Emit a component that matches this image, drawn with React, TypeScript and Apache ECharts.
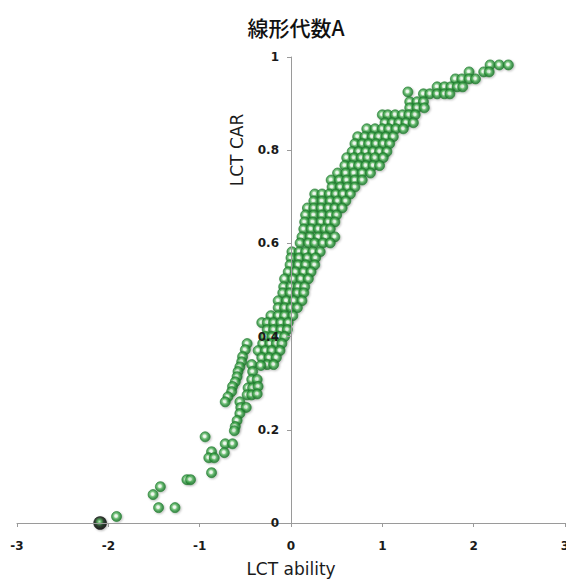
import React, { useEffect, useRef } from "react";
import * as echarts from "echarts";

// Rows of the dense band: [CAR, abilities on that CAR level]
const mainBandRows: [number, number[]][] = [
  [0.983, [2.18, 2.28, 2.38]],
  [0.968, [1.95, 2.11, 2.17]],
  [0.953, [1.8, 1.87, 1.95, 2.02]],
  [0.936, [1.6, 1.68, 1.75, 1.82, 1.88]],
  [0.925, [1.28]],
  [0.921, [1.45, 1.52, 1.6, 1.68, 1.74]],
  [0.904, [1.3, 1.38, 1.45]],
  [0.891, [1.3, 1.38, 1.46]],
  [0.876, [1.0, 1.06, 1.14, 1.22, 1.29, 1.36]],
  [0.859, [1.03, 1.11, 1.18, 1.26, 1.34]],
  [0.846, [0.83, 0.92, 1.0, 1.07, 1.15, 1.23]],
  [0.829, [0.73, 0.81, 0.89, 0.96, 1.04, 1.12]],
  [0.814, [0.7, 0.78, 0.85, 0.93, 1.01, 1.08]],
  [0.797, [0.67, 0.74, 0.82, 0.9, 0.97, 1.05]],
  [0.784, [0.61, 0.69, 0.77, 0.84, 0.92, 1.01]],
  [0.767, [0.59, 0.67, 0.74, 0.82, 0.9, 0.97]],
  [0.751, [0.51, 0.6, 0.69, 0.78, 0.87]],
  [0.736, [0.44, 0.53, 0.61, 0.7, 0.78]],
  [0.721, [0.45, 0.54, 0.62, 0.7]],
  [0.706, [0.26, 0.34, 0.42, 0.49, 0.57, 0.65]],
  [0.691, [0.25, 0.34, 0.43, 0.51, 0.6]],
  [0.676, [0.18, 0.25, 0.33, 0.41, 0.48, 0.56]],
  [0.661, [0.16, 0.25, 0.34, 0.43, 0.5]],
  [0.646, [0.15, 0.24, 0.33, 0.41, 0.48]],
  [0.631, [0.14, 0.22, 0.3, 0.37, 0.43]],
  [0.614, [0.12, 0.21, 0.3, 0.38, 0.48]],
  [0.601, [0.1, 0.19, 0.26, 0.35, 0.43]],
  [0.582, [0.01, 0.09, 0.16, 0.24, 0.32]],
  [0.569, [0.0, 0.09, 0.18, 0.27]],
  [0.554, [-0.01, 0.08, 0.16, 0.26]],
  [0.539, [-0.03, 0.05, 0.14, 0.22]],
  [0.524, [-0.07, 0.02, 0.11, 0.19]],
  [0.507, [-0.08, 0.0, 0.08, 0.15]],
  [0.494, [-0.09, -0.01, 0.07, 0.14]],
  [0.477, [-0.14, -0.05, 0.03, 0.12]],
  [0.462, [-0.14, -0.07, 0.0, 0.07]],
  [0.445, [-0.22, -0.14, -0.07, 0.02]],
  [0.43, [-0.32, -0.26, -0.19, -0.11, -0.03]],
  [0.415, [-0.26, -0.19, -0.11, -0.04]],
  [0.4, [-0.28, -0.21, -0.13, -0.07]],
  [0.385, [-0.31, -0.23, -0.16, -0.1]],
  [0.37, [-0.36, -0.28, -0.21, -0.12]],
  [0.355, [-0.32, -0.24, -0.16]],
  [0.34, [-0.26, -0.19]],
];

// Diagonal strand left of the band: [ability, CAR]
const strandPoints: [number, number][] = [
  [-0.48, 0.385], [-0.5, 0.372], [-0.53, 0.357], [-0.54, 0.346],
  [-0.56, 0.335], [-0.58, 0.325], [-0.59, 0.314], [-0.61, 0.303],
  [-0.64, 0.293], [-0.65, 0.282], [-0.69, 0.271], [-0.72, 0.26],
];

// Small cluster under the band: [ability, CAR]
const clusterPoints: [number, number][] = [
  [-0.43, 0.34], [-0.33, 0.338], [-0.42, 0.325], [-0.43, 0.308],
  [-0.37, 0.308], [-0.47, 0.29], [-0.42, 0.29], [-0.36, 0.293],
  [-0.48, 0.275], [-0.43, 0.275], [-0.37, 0.277], [-0.56, 0.26],
  [-0.55, 0.248], [-0.49, 0.248], [-0.56, 0.235], [-0.59, 0.22],
  [-0.61, 0.207], [-0.62, 0.198],
];

// Sparse low-ability examinees: [ability, CAR]
const lowPoints: [number, number][] = [
  [-0.94, 0.185], [-0.72, 0.17], [-0.64, 0.17], [-0.73, 0.151],
  [-0.87, 0.153], [-0.9, 0.14], [-0.84, 0.14], [-0.87, 0.108],
  [-1.14, 0.093], [-1.1, 0.093], [-1.43, 0.078], [-1.51, 0.061],
  [-1.45, 0.033], [-1.27, 0.033], [-1.91, 0.014],
];

// Highlighted examinee
const markedPoint: [number, number] = [-2.09, 0.0];

const xTicks = [-3, -2, -1, 0, 1, 2, 3];
const yTicks = [0, 0.2, 0.4, 0.6, 0.8, 1];

const GRID_LEFT = 17;
const GRID_RIGHT = 1;
const CHART_W = 566;
const CHART_H = 583;

const greenBall = {
  type: "radial",
  x: 0.45,
  y: 0.45,
  r: 0.55,
  colorStops: [
    { offset: 0, color: "#ffffff" },
    { offset: 0.25, color: "#e6f7e6" },
    { offset: 0.45, color: "#6cc270" },
    { offset: 0.7, color: "#2e9640" },
    { offset: 1, color: "#1b7428" },
  ],
};

const blackBall = {
  type: "radial",
  x: 0.45,
  y: 0.4,
  r: 0.55,
  colorStops: [
    { offset: 0, color: "#b8f0b8" },
    { offset: 0.3, color: "#3c9a44" },
    { offset: 0.6, color: "#0a200c" },
    { offset: 1, color: "#000000" },
  ],
};

export default function App() {
  const ref = useRef<HTMLDivElement>(null);

  useEffect(() => {
    if (!ref.current) return;
    const chart = echarts.init(ref.current, undefined, { renderer: "svg" });

    const bandData: [number, number][] = [];
    mainBandRows.forEach(([car, abilities]) => {
      abilities.forEach((a) => bandData.push([a, car]));
    });
    const greenData = [...bandData, ...strandPoints, ...clusterPoints, ...lowPoints];

    // the vertical axis sits where ability = 0
    const xMin = xTicks[0];
    const xMax = xTicks[xTicks.length - 1];
    const plotW = CHART_W - GRID_LEFT - GRID_RIGHT;
    const zeroOffset = ((0 - xMin) / (xMax - xMin)) * plotW;

    const tickFont = {
      fontFamily: "DejaVu Sans",
      fontSize: 12,
      fontWeight: "bold" as const,
      color: "#1a1a1a",
    };

    chart.setOption({
      animation: false,
      backgroundColor: "#ffffff",
      title: {
        text: "線形代数A",
        left: GRID_LEFT + zeroOffset,
        top: 11,
        textAlign: "center",
        textStyle: {
          fontFamily: "Noto Sans CJK JP",
          fontSize: 21,
          fontWeight: 500,
          color: "#111",
        },
      },
      grid: {
        left: GRID_LEFT,
        right: GRID_RIGHT,
        top: 57,
        bottom: 60,
        containLabel: false,
        outerBoundsMode: "none",
      },
      xAxis: {
        type: "value",
        min: xMin,
        max: xMax,
        interval: 1,
        name: "LCT ability",
        nameLocation: "middle",
        nameGap: 37,
        nameTextStyle: { fontFamily: "DejaVu Sans", fontSize: 17, color: "#1a1a1a" },
        axisLine: { onZero: true, lineStyle: { color: "#9a9a9a", width: 1 } },
        axisTick: { show: true, length: 4, lineStyle: { color: "#9a9a9a" } },
        axisLabel: { ...tickFont, margin: 17, showMinLabel: true, showMaxLabel: true },
        splitLine: { show: false },
        z: 5,
      },
      yAxis: {
        type: "value",
        min: yTicks[0],
        max: yTicks[yTicks.length - 1],
        interval: 0.2,
        offset: -zeroOffset,
        axisLine: { onZero: false, lineStyle: { color: "#9a9a9a", width: 1 } },
        axisTick: { show: true, length: 4, lineStyle: { color: "#9a9a9a" } },
        axisLabel: {
          ...tickFont,
          margin: 12,
          formatter: (v: number) => String(Math.round(v * 10) / 10),
        },
        splitLine: { show: false },
        z: 5,
      },
      graphic: [
        {
          type: "text",
          x: 237,
          y: 150,
          rotation: Math.PI / 2,
          style: {
            text: "LCT CAR",
            fontFamily: "DejaVu Sans",
            fontSize: 17,
            fill: "#1a1a1a",
            textAlign: "center",
            textVerticalAlign: "middle",
          },
        },
      ],
      series: [
        {
          type: "scatter",
          data: greenData,
          symbol: "circle",
          symbolSize: 10,
          itemStyle: {
            color: greenBall,
            borderColor: "#1f7d2c",
            borderWidth: 0.8,
            shadowBlur: 2,
            shadowOffsetX: 1,
            shadowOffsetY: 1,
            shadowColor: "rgba(0,0,0,0.3)",
          },
          z: 2,
        },
        {
          type: "scatter",
          data: [markedPoint],
          symbol: "circle",
          symbolSize: 13,
          itemStyle: {
            color: blackBall,
            borderColor: "#000",
            borderWidth: 0.5,
            shadowBlur: 2,
            shadowOffsetX: 1,
            shadowOffsetY: 1,
            shadowColor: "rgba(0,0,0,0.35)",
          },
          z: 3,
        },
      ],
    });

    return () => chart.dispose();
  }, []);

  return (
    <div
      ref={ref}
      style={{ position: "fixed", left: 0, top: 0, width: CHART_W, height: CHART_H }}
    />
  );
}
